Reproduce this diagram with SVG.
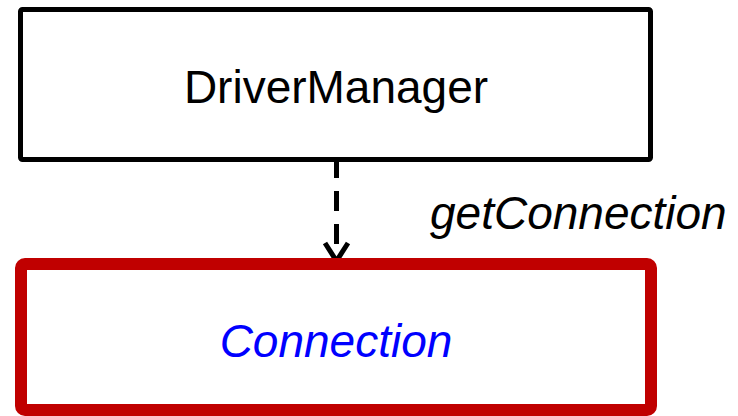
<svg xmlns="http://www.w3.org/2000/svg" width="738" height="416" viewBox="0 0 738 416">
  <defs>
    <style>
      .lbl { font-family: "Liberation Sans", Arial, sans-serif; font-size: 46px; }
      .it { font-style: italic; }
    </style>
    <marker id="open" viewBox="0 0 24 24" refX="12" refY="21" markerWidth="24" markerHeight="24" markerUnits="userSpaceOnUse" orient="auto-start-reverse">
      <path d="M1,2 L12,21 L23,2" fill="none" stroke="#000" stroke-width="5"/>
    </marker>
  </defs>
  <rect width="738" height="416" fill="#fff"/>
  <g id="connectors">
    <line x1="336.5" y1="158" x2="336.5" y2="254" stroke="#000" stroke-width="5" stroke-dasharray="20 13"/>
    <path d="M325,243 L336.5,261 L348,243" fill="none" stroke="#000" stroke-width="5"/>
    <text class="lbl it" x="430" y="229" fill="#000">getConnection</text>
  </g>
  <g id="DriverManager">
    <rect x="20.5" y="9.5" width="630" height="150" fill="#fff" stroke="#000" stroke-width="5" rx="2"/>
    <text class="lbl" x="336" y="103" text-anchor="middle" fill="#000">DriverManager</text>
  </g>
  <g id="Connection">
    <rect x="21" y="264" width="630" height="146" fill="#fff" stroke="#c00000" stroke-width="12" rx="4"/>
    <text class="lbl it" x="336" y="357" text-anchor="middle" fill="#0000ff">Connection</text>
  </g>
</svg>
